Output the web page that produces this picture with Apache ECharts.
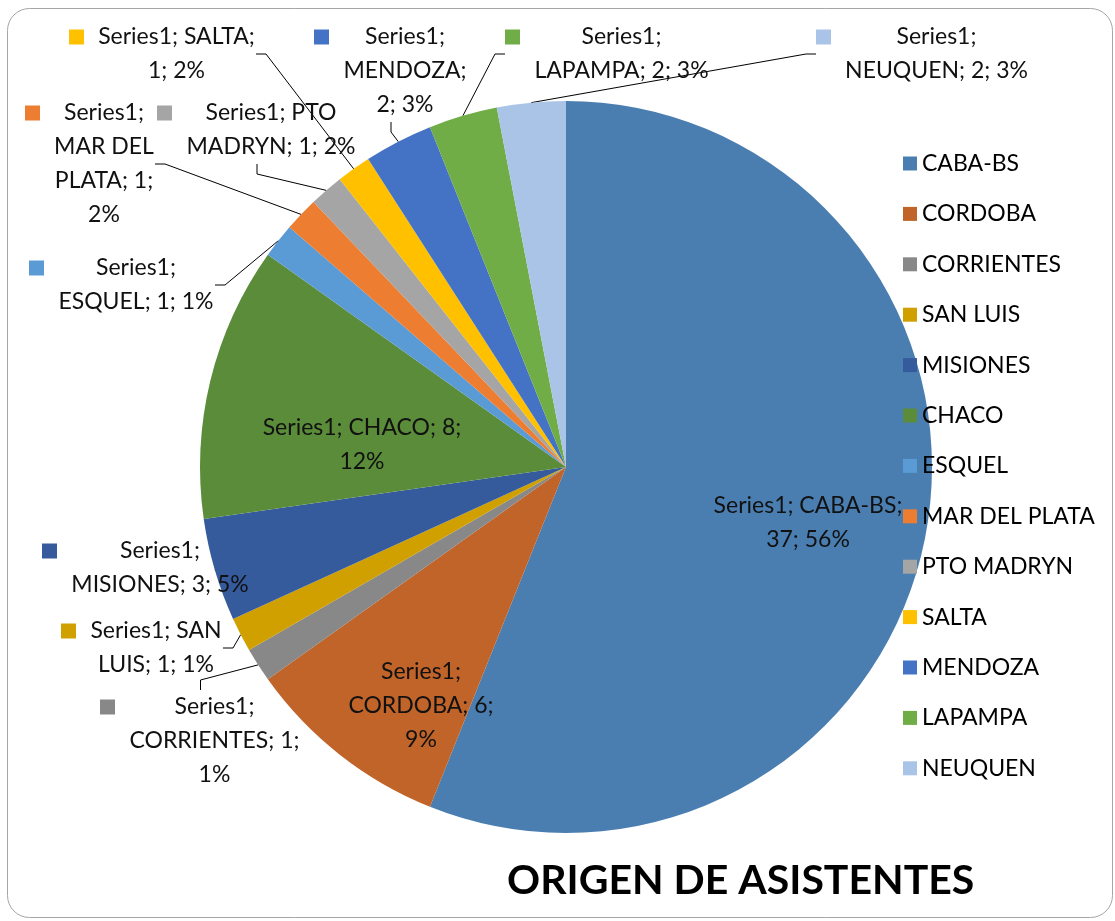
<!DOCTYPE html>
<html>
<head>
<meta charset="utf-8">
<title>Origen de asistentes</title>
<script src="https://cdn.jsdelivr.net/npm/echarts@6/dist/echarts.min.js"></script>
<style>
  html, body { margin: 0; padding: 0; background: #fff; }
  #chart { width: 1115px; height: 921px; }
</style>
</head>
<body>
<div id="chart"></div>
<script>
const seriesName = 'Series1'
const categories = ['CABA-BS', 'CORDOBA', 'CORRIENTES', 'SAN LUIS', 'MISIONES', 'CHACO', 'ESQUEL',
  'MAR DEL PLATA', 'PTO MADRYN', 'SALTA', 'MENDOZA', 'LAPAMPA', 'NEUQUEN']
const values = [37, 6, 1, 1, 3, 8, 1, 1, 1, 1, 2, 2, 2]
// percentages as printed on the labels
const percents = [56, 9, 1, 1, 5, 12, 1, 2, 2, 2, 3, 3, 3]
const colors = ['#4a7eb1', '#c0642a', '#888888', '#cfa000', '#365b9d', '#5a8c39', '#5b9bd5',
  '#ed7d31', '#a5a5a5', '#ffc000', '#4472c4', '#70ad47', '#a9c4e6']
const titleText = 'ORIGEN DE ASISTENTES'

// words per line of each data label (how the labels wrap)
const labelWrap = [[2, 2], [1, 2, 1], [1, 2, 1], [2, 3], [1, 3], [3, 1], [1, 3], [1, 2, 2, 1], [2, 3], [2, 2], [1, 1, 2], [1, 3], [1, 3]]
// labels drawn on the slice itself
const insideLabels = [0, 1, 5]
// label placement: inside -> centre of text, outside -> left of key square / middle of first line
const labelSpots = [[808, 523], [421, 706], [100, 707], [61, 631], [42, 551], [362, 445], [29, 268],
  [25, 113], [157, 113], [69, 37], [314, 37], [505, 37], [816, 37]]

const FONT = 'Lato'
const LABEL_SIZE = 23
const LINE_H = 34

const measure = document.createElement('canvas').getContext('2d')
measure.font = LABEL_SIZE + 'px ' + FONT

function labelLines(i) {
  const words = (seriesName + '; ' + categories[i] + '; ' + values[i] + '; ' + percents[i] + '%').split(' ')
  const lines = []
  let k = 0
  labelWrap[i].forEach(n => {
    lines.push(words.slice(k, k + n).join(' '))
    k += n
  })
  return lines
}

const pieData = categories.map((name, i) => {
  const lines = labelLines(i)
  if (insideLabels.includes(i)) {
    return {
      name, value: values[i],
      itemStyle: { color: colors[i] },
      label: { position: 'inside', formatter: lines.join('\n'), lineHeight: LINE_H, align: 'center' },
      labelLine: { show: false }
    }
  }
  // outside label: key square before the first line, lines centred in a block
  const w = Math.ceil(Math.max(...lines.map(l => measure.measureText(l).width))) + 2
  const text = lines.map((l, j) => (j === 0 ? '{k|}{g|}' : '{sp|}') + '{t|' + l + '}').join('\n')
  return {
    name, value: values[i],
    itemStyle: { color: colors[i] },
    label: {
      position: 'outside',
      formatter: text,
      rich: {
        k: { width: 15, height: 15, backgroundColor: colors[i] },
        g: { width: 13 },
        sp: { width: 28 },
        t: { width: w, align: 'center', lineHeight: LINE_H, fontSize: LABEL_SIZE, fontFamily: FONT, color: '#111' }
      }
    }
  }
})

const chart = echarts.init(document.getElementById('chart'))
chart.setOption({
  backgroundColor: '#fff',
  animation: false,
  title: {
    text: titleText,
    left: 507,
    top: 860,
    padding: 0,
    textStyle: { fontFamily: FONT, fontSize: 41, fontWeight: 'bold', color: '#000' }
  },
  legend: {
    orient: 'vertical',
    left: 903,
    top: 152,
    padding: 0,
    itemWidth: 14,
    itemHeight: 14,
    itemGap: 27.4,
    icon: 'rect',
    data: categories,
    textStyle: { fontFamily: FONT, fontSize: 23, color: '#000' }
  },
  graphic: [{
    type: 'rect',
    z: -1,
    shape: { x: 7.5, y: 8.5, width: 1105, height: 909, r: 22 },
    style: { fill: 'none', stroke: '#a6a6a6', lineWidth: 1 }
  }],
  series: [{
    name: seriesName,
    type: 'pie',
    center: [566, 467],
    radius: 366,
    startAngle: 90,
    clockwise: true,
    avoidLabelOverlap: false,
    color: colors,
    label: {
      fontFamily: FONT,
      fontSize: LABEL_SIZE,
      color: '#111',
      lineHeight: LINE_H
    },
    labelLine: {
      show: true,
      length: 8,
      length2: 10,
      lineStyle: { color: '#000', width: 1 }
    },
    labelLayout: function (params) {
      const i = params.dataIndex
      const s = labelSpots[i]
      if (insideLabels.includes(i)) {
        return { x: s[0], y: s[1], align: 'center', verticalAlign: 'middle' }
      }
      return { x: s[0], y: s[1] - LINE_H / 2, align: 'left', verticalAlign: 'top' }
    },
    emphasis: { disabled: true },
    data: pieData
  }]
})
</script>
</body>
</html>
